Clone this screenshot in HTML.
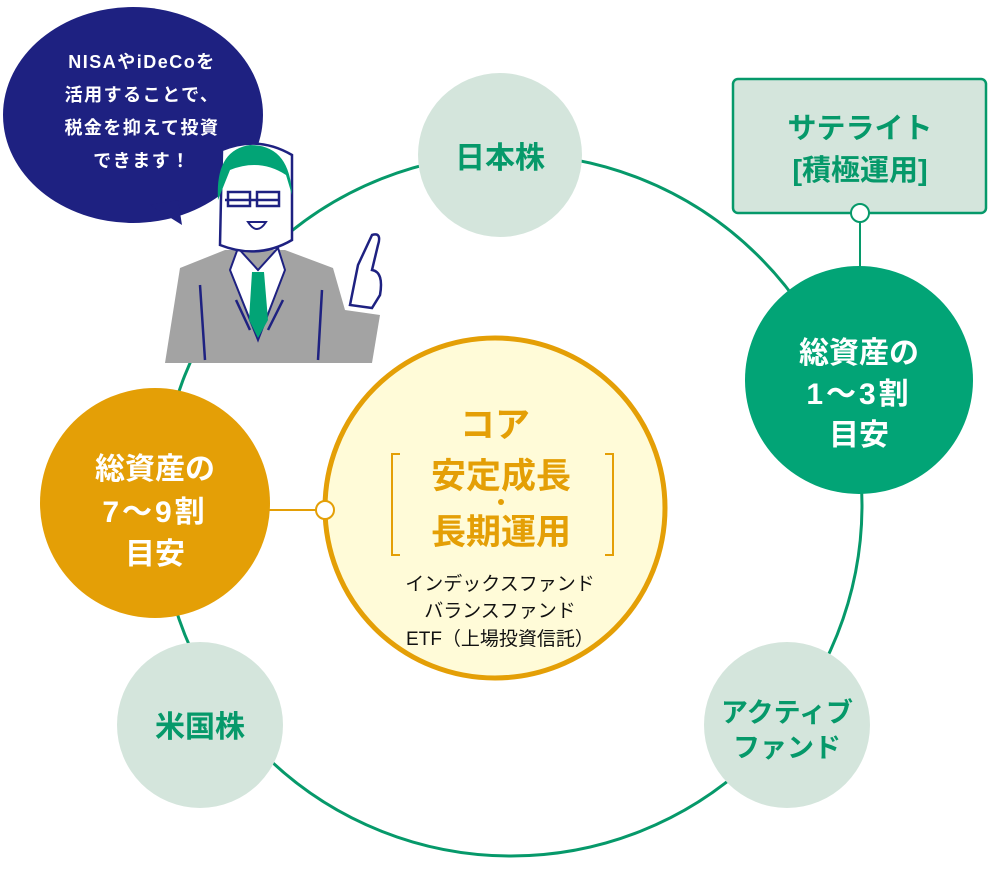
<!DOCTYPE html>
<html><head><meta charset="utf-8"><style>
html,body{margin:0;padding:0;background:#fff}
svg{display:block}
text{font-family:"Liberation Sans","Noto Sans CJK JP",sans-serif;font-weight:bold}
text.n{font-weight:normal}
</style></head><body>
<svg width="988" height="885" viewBox="0 0 988 885" xmlns="http://www.w3.org/2000/svg">
<circle cx="511" cy="505" r="351" fill="none" stroke="#06996a" stroke-width="3"/>
<line x1="860" y1="213" x2="860" y2="270" stroke="#06996a" stroke-width="2"/>
<rect x="733" y="79" width="253" height="134" rx="5" fill="#d4e5dc" stroke="#06996a" stroke-width="2.5"/>
<text x="860" y="138" font-size="29" fill="#06996a" text-anchor="middle">サテライト</text>
<text x="860" y="180" font-size="29" fill="#06996a" text-anchor="middle">[積極運用]</text>
<circle cx="860" cy="213" r="9" fill="#fff" stroke="#06996a" stroke-width="2"/>
<circle cx="859" cy="380" r="114" fill="#02a476"/>
<g font-size="30" fill="#fff" text-anchor="middle">
<text x="859" y="363">総資産の</text><text x="859" y="404" letter-spacing="3">1～3割</text><text x="859" y="445">目安</text></g>
<circle cx="500" cy="155" r="82" fill="#d4e5dc"/>
<text x="500" y="168" font-size="30" fill="#06996a" text-anchor="middle">日本株</text>
<circle cx="200" cy="725" r="83" fill="#d4e5dc"/>
<text x="200" y="737" font-size="30" fill="#06996a" text-anchor="middle">米国株</text>
<circle cx="787" cy="725" r="83" fill="#d4e5dc"/>
<text x="787" y="722" font-size="27" fill="#06996a" text-anchor="middle">アクティブ</text>
<text x="787" y="757" font-size="27" fill="#06996a" text-anchor="middle">ファンド</text>
<line x1="260" y1="510" x2="325" y2="510" stroke="#e49f06" stroke-width="2"/>
<circle cx="155" cy="503" r="115" fill="#e49f06"/>
<g font-size="30" fill="#fff" text-anchor="middle">
<text x="155" y="479">総資産の</text><text x="155" y="522" letter-spacing="3">7～9割</text><text x="155" y="564">目安</text></g>
<circle cx="495" cy="508" r="170" fill="#fffbd8" stroke="#e49f06" stroke-width="5"/>
<circle cx="325" cy="510" r="9" fill="#fff" stroke="#e49f06" stroke-width="2"/>
<g font-size="35" fill="#e49f06" text-anchor="middle">
<text x="495" y="437">コア</text><text x="501" y="488">安定成長</text><text x="501" y="544">長期運用</text></g>
<circle cx="501" cy="502" r="3" fill="#e49f06"/>
<path d="M400 454 H392 V555 H400 M605 454 H613 V555 H605" fill="none" stroke="#e49f06" stroke-width="2"/>
<g font-size="19" fill="#111" text-anchor="middle">
<text class="n" x="500" y="590">インデックスファンド</text><text class="n" x="500" y="617">バランスファンド</text><text class="n" x="500" y="645">ETF（上場投資信託）</text></g>
<ellipse cx="133" cy="115" rx="130" ry="108" fill="#1e2181"/>
<path d="M150 205 L182 225 L178 200 Z" fill="#1e2181"/>
<g font-size="18" fill="#fff" text-anchor="middle" letter-spacing="1.5">
<text x="142" y="68">NISAやiDeCoを</text><text x="142" y="101">活用することで、</text><text x="142" y="134">税金を抑えて投資</text><text x="142" y="167">できます！</text></g>
<path d="M180 268 L225 250 L285 250 L333 268 L345 310 L380 315 L372 363 L165 363 Z" fill="#a3a3a3"/>
<path d="M238 248 L258 270 L278 248 L285 270 L258 340 L230 270 Z" fill="#fff" stroke="#1e2181" stroke-width="2"/>
<path d="M252 272 L264 272 L268 320 L258 338 L249 320 Z" fill="#02a476"/>
<path d="M220 245 L222 150 Q258 135 292 155 L292 240 Q258 260 220 245Z" fill="#fff" stroke="#1e2181" stroke-width="2.5"/>
<path d="M218 200 Q215 150 250 145 Q290 145 292 195 L286 175 Q260 158 230 170 Z" fill="#02a476"/>
<path d="M225 200 H280 M228 192 h22 v14 h-22z M257 192 h22 v14 h-22z" fill="none" stroke="#1e2181" stroke-width="2.5"/>
<path d="M248 222 Q257 236 266 222 Z" fill="#fff" stroke="#1e2181" stroke-width="2"/>
<path d="M350 305 L358 265 L372 235 Q382 232 378 245 L372 270 Q384 272 380 295 L372 308 Z" fill="#fff" stroke="#1e2181" stroke-width="2.5"/>
<path d="M200 285 L205 360 M322 290 L318 360 M236 300 L250 330 M283 300 L268 330" stroke="#1e2181" stroke-width="2.5" fill="none"/>
</svg>
</body></html>
